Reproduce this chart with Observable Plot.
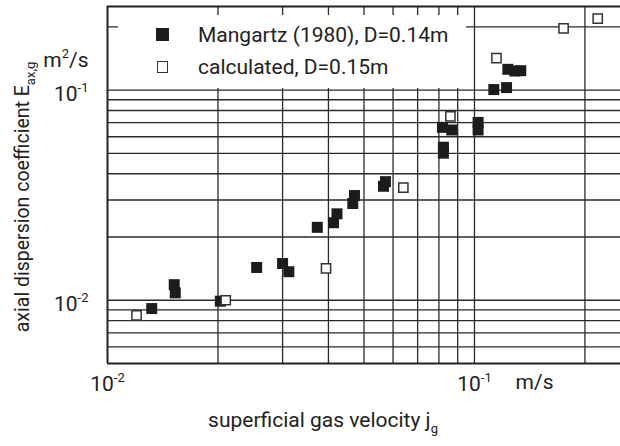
<!DOCTYPE html>
<html><head><meta charset="utf-8">
<script src="https://cdn.jsdelivr.net/npm/d3@7"></script>
<script src="https://cdn.jsdelivr.net/npm/@observablehq/plot@0.6"></script>
<style>
body{margin:0;background:#fff;}
#wrap{position:relative;width:620px;height:446px;}
#legend{position:absolute;left:118px;top:15px;width:348px;height:73px;background:#fff;font-family:Roboto,sans-serif;font-size:21px;color:#222;}
#legend .sw{position:absolute;box-sizing:border-box;}
#legend .lab{position:absolute;left:80px;line-height:1;white-space:nowrap;}
</style></head><body><div id="wrap"></div>
<script>
// Mangartz (1980), D=0.14m  (filled squares)
const mangartzX = [0.0132, 0.0152, 0.0153, 0.0203, 0.0255, 0.0300, 0.0312, 0.0373, 0.0413, 0.0422, 0.0466, 0.0471, 0.0565, 0.0572, 0.0818, 0.0823, 0.0823, 0.0867, 0.1023, 0.1023, 0.1129, 0.1223, 0.1233, 0.1288, 0.1337];
const mangartzY = [0.00913, 0.01186, 0.01084, 0.0099, 0.01432, 0.01496, 0.01367, 0.02223, 0.02338, 0.02578, 0.02887, 0.0315, 0.03486, 0.03668, 0.0665, 0.0535, 0.0501, 0.0646, 0.0702, 0.0646, 0.1006, 0.1028, 0.1256, 0.1233, 0.1237];
// calculated, D=0.15m (open squares)
const calcX = [0.0120, 0.0210, 0.0394, 0.0640, 0.0860, 0.1148, 0.1749, 0.2167];
const calcY = [0.00847, 0.0100, 0.01417, 0.03437, 0.0750, 0.1420, 0.1968, 0.2188];

const xDomain = [0.01, 0.25];
const yDomain = [0.005, 0.25];
const xGrid = [0.02, 0.03, 0.04, 0.05, 0.06, 0.07, 0.08, 0.09, 0.1, 0.2];
const yGrid = [0.006, 0.007, 0.008, 0.009, 0.01, 0.02, 0.03, 0.04, 0.05, 0.06, 0.07, 0.08, 0.09, 0.1, 0.2];
const xTickValues = [0.01, 0.1];
const xTickTexts = ["10^{-2}", "10^{-1}"];
const yTickValues = [0.01, 0.1];
const yTickTexts = ["10^{-2}", "10^{-1}"];
const seriesNames = ["Mangartz (1980), D=0.14m", "calculated, D=0.15m"];
const xUnit = "m/s";
const yUnit = "m^{2}/s";
const xLabel = "superficial gas velocity j_{g}";
const yLabel = "axial dispersion coefficient E_{ax,g}";

const mangartz = mangartzX.map((x, i) => ({x, y: mangartzY[i]}));
const calc = calcX.map((x, i) => ({x, y: calcY[i]}));

const FONT = "Roboto, sans-serif";
const plot = Plot.plot({
  width: 620, height: 446,
  marginLeft: 107, marginRight: 0, marginTop: 6, marginBottom: 83,
  style: {fontFamily: FONT, fontSize: "21px", color: "#222", background: "#fff"},
  x: {type: "log", domain: xDomain, axis: null},
  y: {type: "log", domain: yDomain, axis: null},
  marks: [
    Plot.ruleX(xGrid, {stroke: "#2a2a2a", strokeWidth: 1.3}),
    Plot.ruleY(yGrid, {stroke: "#2a2a2a", strokeWidth: 1.3}),
    Plot.ruleX([xDomain[0]], {stroke: "#222", strokeWidth: 2}),
    Plot.ruleY(yDomain, {stroke: "#222", strokeWidth: 2}),
    Plot.dot(mangartz, {x: "x", y: "y", symbol: "square", r: 6.2, fill: "#1c1c1c", stroke: "none"}),
    Plot.dot(calc, {x: "x", y: "y", symbol: "square", r: 5.2, fill: "#fff", stroke: "#333", strokeWidth: 1.5}),
    Plot.text(xTickValues, {x: d => d, text: (d, i) => xTickTexts[i], frameAnchor: "bottom", textAnchor: "middle", dy: 27, fontSize: 21, fill: "#222"}),
    Plot.text(yTickValues, {y: d => d, text: (d, i) => yTickTexts[i], frameAnchor: "left", dx: -19, dy: 4, textAnchor: "end", fontSize: 21, fill: "#222"}),
    Plot.text([xUnit], {text: d => d, frameAnchor: "bottom-right", dx: -67, dy: 25, textAnchor: "end", fontSize: 21, fill: "#222"}),
    Plot.text([yUnit], {text: d => d, frameAnchor: "top-left", dx: -19, dy: 46, textAnchor: "end", fontSize: 21, fill: "#222"}),
    Plot.text([xLabel], {text: d => d, frameAnchor: "bottom", textAnchor: "middle", dx: -41, dy: 63, fontSize: 21, fill: "#222"}),
    Plot.text([yLabel], {text: d => d, frameAnchor: "left", textAnchor: "middle", rotate: -90, dx: -85, dy: 12, fontSize: 19.5, fill: "#222"})
  ]
});

// turn ^{..} / _{..} markup into real super/subscript tspans
function richify(svg) {
  const ns = "http://www.w3.org/2000/svg";
  svg.querySelectorAll("text").forEach(t => {
    const s = t.textContent;
    if (!/[\^_]\{/.test(s)) return;
    while (t.firstChild) t.removeChild(t.firstChild);
    const re = /([\^_])\{([^}]*)\}/g;
    let last = 0, m;
    const add = (txt, dy, small) => {
      const ts = document.createElementNS(ns, "tspan");
      ts.textContent = txt;
      if (dy) ts.setAttribute("dy", dy);
      if (small) ts.setAttribute("font-size", "13px");
      t.appendChild(ts);
    };
    let pending = 0;
    while ((m = re.exec(s))) {
      if (m.index > last) { add(s.slice(last, m.index), pending); pending = 0; }
      const shift = m[1] === "^" ? -9 : 6;
      add(m[2], shift + pending, true);
      pending = -shift;
      last = re.lastIndex;
    }
    if (last < s.length) add(s.slice(last), pending);
  });
}
richify(plot);

const wrap = document.getElementById("wrap");
wrap.appendChild(plot);

// legend box (white panel over the grid, as in the original)
const leg = document.createElement("div");
leg.id = "legend";
const rows = [
  {name: seriesNames[0], top: 10, sw: {left: 38, top: 13, size: 13, fill: "#1c1c1c", border: "none"}},
  {name: seriesNames[1], top: 42, sw: {left: 38.5, top: 46, size: 11.5, fill: "#fff", border: "1.5px solid #333"}}
];
rows.forEach(r => {
  const sw = document.createElement("div");
  sw.className = "sw";
  Object.assign(sw.style, {left: r.sw.left + "px", top: r.sw.top + "px", width: r.sw.size + "px", height: r.sw.size + "px", background: r.sw.fill, border: r.sw.border});
  leg.appendChild(sw);
  const lab = document.createElement("div");
  lab.className = "lab";
  lab.style.top = r.top + "px";
  lab.textContent = r.name;
  leg.appendChild(lab);
});
wrap.appendChild(leg);
</script>
</body></html>
